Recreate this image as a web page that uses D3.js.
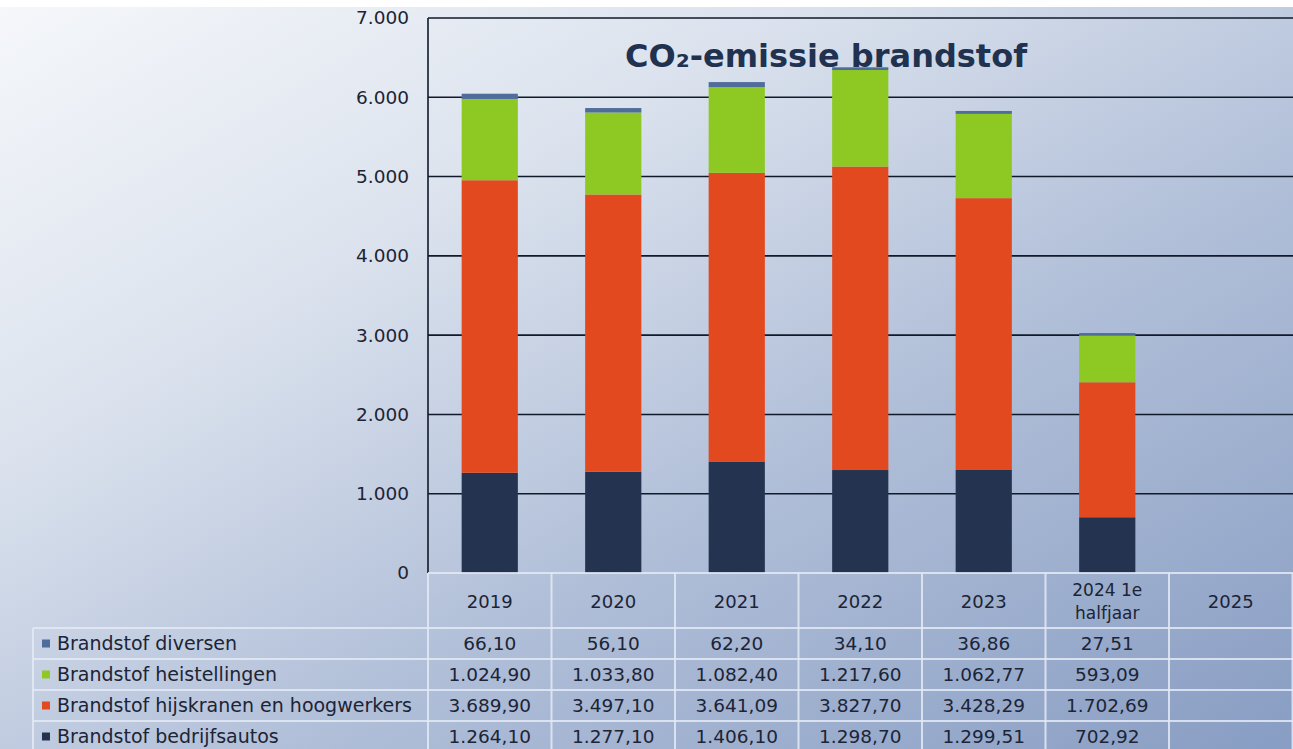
<!DOCTYPE html>
<html>
<head>
<meta charset="utf-8">
<script src="https://cdn.jsdelivr.net/npm/d3@7"></script>
<style>
  html, body { margin: 0; padding: 0; background: #fff; }
  svg { display: block; font-family: "DejaVu Sans", Verdana, sans-serif; }
</style>
</head>
<body>
<svg id="chart" width="1293" height="749"></svg>
<script>
// categories and series (stack order bottom -> top)
const years = ["2019", "2020", "2021", "2022", "2023", "2024 1e halfjaar", "2025"];
const seriesNames = [
  "Brandstof bedrijfsautos",
  "Brandstof hijskranen en hoogwerkers",
  "Brandstof heistellingen",
  "Brandstof diversen"
];
const bedrijfsautos = [1264.10, 1277.10, 1406.10, 1298.70, 1299.51, 702.92, null];
const hijskranen = [3689.90, 3497.10, 3641.09, 3827.70, 3428.29, 1702.69, null];
const heistellingen = [1024.90, 1033.80, 1082.40, 1217.60, 1062.77, 593.09, null];
const diversen = [66.10, 56.10, 62.20, 34.10, 36.86, 27.51, null];
const yTicks = [0, 1000, 2000, 3000, 4000, 5000, 6000, 7000];
const colors = ["#243450", "#e2491f", "#8dc823", "#4f6d9a"];

const seriesValues = [bedrijfsautos, hijskranen, heistellingen, diversen];

const nl = d3.formatLocale({ decimal: ",", thousands: ".", grouping: [3], currency: ["€", ""] });
const fmtTick = nl.format(",.0f");
const fmtVal = nl.format(",.2f");

const svg = d3.select("#chart");
const W = 1293, H = 749;
const plot = { left: 428, right: 1293, top: 18, bottom: 573 };
const tableLeft = 33;
const headerBottom = 628;
const rowH = 31;
const textColor = "#1c2435";

// background gradient
const defs = svg.append("defs");
const bg = defs.append("linearGradient")
  .attr("id", "bg")
  .attr("x1", 0).attr("y1", 0).attr("x2", 1).attr("y2", 1);
bg.append("stop").attr("offset", 0).attr("stop-color", "#f5f7fa");
bg.append("stop").attr("offset", 0.3).attr("stop-color", "#dce3ee");
bg.append("stop").attr("offset", 0.6).attr("stop-color", "#b2c0d9");
bg.append("stop").attr("offset", 1).attr("stop-color", "#889dc3");

svg.append("rect").attr("width", W).attr("height", H).attr("fill", "#fff");
svg.append("rect").attr("y", 7).attr("width", W).attr("height", H - 7).attr("fill", "url(#bg)");

const x = d3.scaleBand()
  .domain(years)
  .range([plot.left, plot.left + years.length * 123.5]);

const y = d3.scaleLinear()
  .domain([0, 7000])
  .range([plot.bottom, plot.top]);

// gridlines
svg.append("g")
  .selectAll("line")
  .data(yTicks.filter(d => d > 0))
  .join("line")
  .attr("x1", plot.left)
  .attr("x2", plot.right)
  .attr("y1", d => y(d))
  .attr("y2", d => y(d))
  .attr("stroke", "#111a2a")
  .attr("stroke-width", 1.6);

// y labels
svg.append("g")
  .selectAll("text")
  .data(yTicks)
  .join("text")
  .attr("x", 409)
  .attr("y", d => y(d))
  .attr("dy", "0.35em")
  .attr("text-anchor", "end")
  .attr("font-size", 18.5)
  .attr("fill", textColor)
  .text(d => fmtTick(d));

// stacked bars
const rows = years.map((yr, i) => {
  const r = { year: yr };
  seriesNames.forEach((s, k) => { r[s] = seriesValues[k][i] || 0; });
  return r;
});
const stacked = d3.stack().keys(seriesNames)(rows);
const barW = x.bandwidth() * 0.455;

svg.append("g")
  .selectAll("g")
  .data(stacked)
  .join("g")
  .attr("fill", (d, i) => colors[i])
  .selectAll("rect")
  .data(d => d)
  .join("rect")
  .attr("x", d => x(d.data.year) + (x.bandwidth() - barW) / 2)
  .attr("width", barW)
  .attr("y", d => y(d[1]))
  .attr("height", d => y(d[0]) - y(d[1]));

// left axis line
svg.append("line")
  .attr("x1", plot.left).attr("x2", plot.left)
  .attr("y1", plot.top).attr("y2", plot.bottom)
  .attr("stroke", "#111a2a").attr("stroke-width", 1.6);

// title
svg.append("text")
  .attr("x", 826)
  .attr("y", 67)
  .attr("text-anchor", "middle")
  .attr("font-size", 32)
  .attr("font-weight", "bold")
  .attr("fill", "#20324f")
  .text("CO₂-emissie brandstof");

// data table
const tableLines = svg.append("g")
  .attr("stroke", "#e4eaf4")
  .attr("stroke-opacity", 0.85)
  .attr("stroke-width", 2);

tableLines.append("line")
  .attr("x1", plot.left).attr("x2", W)
  .attr("y1", plot.bottom).attr("y2", plot.bottom);

const rowTops = d3.range(seriesNames.length).map(i => headerBottom + i * rowH);
tableLines.selectAll("line.h")
  .data(rowTops)
  .join("line")
  .attr("class", "h")
  .attr("x1", tableLeft).attr("x2", W)
  .attr("y1", d => d).attr("y2", d => d);

tableLines.append("line")
  .attr("x1", tableLeft).attr("x2", tableLeft)
  .attr("y1", headerBottom).attr("y2", H);

tableLines.selectAll("line.v")
  .data(years.map(d => x(d)).concat([x(years[years.length - 1]) + x.bandwidth()]))
  .join("line")
  .attr("class", "v")
  .attr("x1", d => d).attr("x2", d => d)
  .attr("y1", plot.bottom).attr("y2", H);

// header (years)
const header = svg.append("g")
  .attr("font-size", 18)
  .attr("fill", textColor)
  .attr("text-anchor", "middle");

years.forEach(yr => {
  const cx = x(yr) + x.bandwidth() / 2;
  if (yr.length <= 4) {
    header.append("text").attr("x", cx).attr("y", 602).attr("dy", "0.35em").text(yr);
  } else {
    header.append("text").attr("x", cx).attr("y", 590).attr("dy", "0.35em").attr("font-size", 17).text("2024 1e");
    header.append("text").attr("x", cx).attr("y", 613).attr("dy", "0.35em").attr("font-size", 17).text("halfjaar");
  }
});

// table rows (top row = last series)
const tableOrder = seriesNames.map((s, k) => k).reverse();
tableOrder.forEach((k, r) => {
  const cy = headerBottom + r * rowH + rowH / 2;
  svg.append("rect")
    .attr("x", 42).attr("y", cy - 4)
    .attr("width", 8).attr("height", 8)
    .attr("fill", colors[k]);
  svg.append("text")
    .attr("x", 57).attr("y", cy)
    .attr("dy", "0.35em")
    .attr("font-size", 19)
    .attr("fill", textColor)
    .text(seriesNames[k]);
  svg.append("g")
    .selectAll("text")
    .data(seriesValues[k].map((v, i) => ({ v, year: years[i] })).filter(d => d.v != null))
    .join("text")
    .attr("x", d => x(d.year) + x.bandwidth() / 2)
    .attr("y", cy)
    .attr("dy", "0.35em")
    .attr("text-anchor", "middle")
    .attr("font-size", 18.5)
    .attr("fill", textColor)
    .text(d => fmtVal(d.v));
});
</script>
</body>
</html>
